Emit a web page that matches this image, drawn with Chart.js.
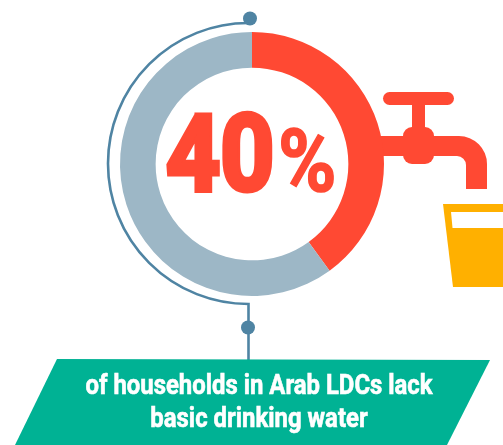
<!DOCTYPE html>
<html>
<head>
<meta charset="utf-8">
<title>Households lacking basic drinking water</title>
<script src="https://cdn.jsdelivr.net/npm/chart.js@4/dist/chart.umd.min.js"></script>
<style>
  html, body { margin: 0; padding: 0; background: #fff; overflow: hidden; }
  canvas { display: block; }
</style>
</head>
<body>
<canvas id="chart" width="503" height="445"></canvas>
<script>
const categories = ['Lack basic drinking water', 'Other households'];
const shareValues = [40, 60];
const shareColors = ['#ff4933', '#9db7c6'];
const captionLines = ['of households in Arab LDCs lack', 'basic drinking water'];

const LINE_BLUE = '#4f84a3';
const RED = shareColors[0];
const GREEN = '#00b294';
const AMBER = '#ffb000';

function polygon(ctx, pts, fill) {
  ctx.beginPath();
  pts.forEach(([x, y], i) => (i ? ctx.lineTo(x, y) : ctx.moveTo(x, y)));
  ctx.closePath();
  ctx.fillStyle = fill;
  ctx.fill();
}

function roundedBox(ctx, x, y, w, h, r, fill) {
  ctx.beginPath();
  ctx.roundRect(x, y, w, h, r);
  ctx.fillStyle = fill;
  ctx.fill();
}

// Condensed heavy text: Roboto squeezed horizontally, with an outline to add weight.
function squeezedText(ctx, text, x, y, font, squeeze, color, align, weightStroke) {
  ctx.save();
  ctx.translate(x, y);
  ctx.scale(squeeze, 1);
  ctx.font = font;
  ctx.fillStyle = color;
  ctx.strokeStyle = color;
  ctx.lineWidth = weightStroke;
  ctx.lineJoin = 'miter';
  ctx.miterLimit = 3;
  ctx.textAlign = align;
  ctx.textBaseline = 'alphabetic';
  ctx.strokeText(text, 0, 0);
  ctx.fillText(text, 0, 0);
  ctx.restore();
}

function drawFaucet(ctx) {
  // Spout, running out of the ring and curving down towards the glass
  ctx.beginPath();
  ctx.moveTo(372, 136);
  ctx.lineTo(459, 136);
  ctx.arcTo(487, 136, 487, 164, 28);
  ctx.lineTo(487, 189);
  ctx.lineTo(466, 189);
  ctx.lineTo(466, 165);
  ctx.arcTo(466, 156, 457, 156, 9);
  ctx.lineTo(372, 156);
  ctx.closePath();
  ctx.fillStyle = RED;
  ctx.fill();

  roundedBox(ctx, 383, 92, 71, 13, 6.5, RED);   // handle
  roundedBox(ctx, 412, 100, 13, 32, 0, RED);    // stem
  roundedBox(ctx, 403, 127, 31, 37, 9, RED);    // valve body
}

function drawGlass(ctx) {
  polygon(ctx, [[443, 204], [560, 204], [550, 287], [453, 287]], AMBER);
  polygon(ctx, [[451, 212], [503, 212], [503, 228], [452.5, 228]], '#fff');
}

function drawConnector(ctx, cx, cy) {
  const r = 140.5;
  ctx.strokeStyle = LINE_BLUE;
  ctx.lineWidth = 2.6;
  ctx.beginPath();
  ctx.arc(cx - 3.5, cy - 0.5, r, Math.PI * 1.5, Math.PI * 0.5, true);
  ctx.lineTo(248.5, 304);
  ctx.lineTo(248.5, 360);
  ctx.stroke();

  ctx.fillStyle = LINE_BLUE;
  ctx.beginPath();
  ctx.arc(250, 18.5, 7, 0, Math.PI * 2);
  ctx.fill();
  ctx.beginPath();
  ctx.arc(248, 327.5, 7, 0, Math.PI * 2);
  ctx.fill();
}

function drawCaption(ctx) {
  polygon(ctx, [[57, 359], [490, 360], [447, 445], [15, 445]], GREEN);
  const font = '700 27px Roboto';
  squeezedText(ctx, captionLines[0], 259, 394, font, 0.885, '#fff', 'center', 0.6);
  squeezedText(ctx, captionLines[1], 259, 427, font, 0.885, '#fff', 'center', 0.6);
}

const infographic = {
  id: 'infographic',
  beforeDatasetsDraw(chart) {
    const ctx = chart.ctx;
    const arc = chart.getDatasetMeta(0).data[0];
    drawFaucet(ctx);
    drawGlass(ctx);
    drawConnector(ctx, arc.x, arc.y);
    drawCaption(ctx);
  },
  afterDatasetsDraw(chart) {
    const ctx = chart.ctx;
    squeezedText(ctx, shareValues[0] + '', 166, 190, '700 106px Roboto', 0.89, RED, 'left', 5);
    squeezedText(ctx, '%', 278, 191, '700 88px Roboto', 0.9, RED, 'left', 1.5);
  }
};

new Chart(document.getElementById('chart'), {
  type: 'doughnut',
  data: {
    labels: categories,
    datasets: [{
      data: shareValues,
      backgroundColor: shareColors,
      borderWidth: 0
    }]
  },
  options: {
    responsive: false,
    animation: false,
    cutout: '73%',
    layout: { padding: { left: 120, right: 119, top: 32, bottom: 149 } },
    plugins: { legend: { display: false }, tooltip: { enabled: false } }
  },
  plugins: [infographic]
});
</script>
</body>
</html>
